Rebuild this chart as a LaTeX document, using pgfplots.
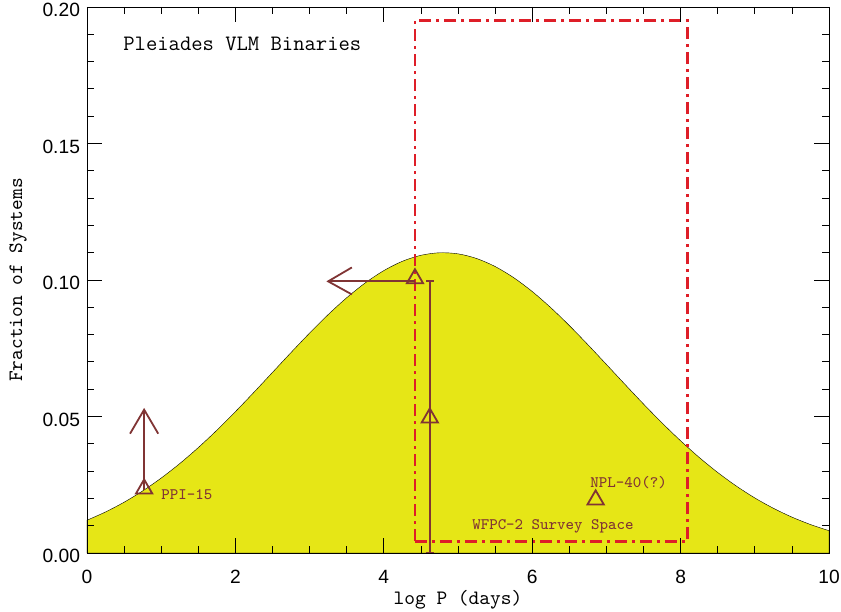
\documentclass[border=0pt]{standalone}
\usepackage{fontspec}
\newfontfamily\tickfont{Liberation Sans}
\usepackage{pgfplots}
\pgfplotsset{compat=1.18}
\usepackage{pgfplotstable}
\definecolor{fillyel}{RGB}{230,230,22}
\definecolor{brn}{RGB}{128,52,52}
\definecolor{redd}{RGB}{222,30,40}
\pgfplotstableread{
x y
0.00 0.01200
0.25 0.01503
0.50 0.01859
0.75 0.02273
1.00 0.02745
1.25 0.03275
1.50 0.03861
1.75 0.04497
2.00 0.05177
2.25 0.05887
2.50 0.06615
2.75 0.07343
3.00 0.08055
3.25 0.08731
3.50 0.09350
3.75 0.09893
4.00 0.10343
4.25 0.10685
4.50 0.10905
4.75 0.10997
5.00 0.10958
5.25 0.10788
5.50 0.10494
5.75 0.10086
6.00 0.09578
6.25 0.08987
6.50 0.08332
6.75 0.07631
7.00 0.06907
7.25 0.06177
7.50 0.05457
7.75 0.04764
8.00 0.04110
8.25 0.03502
8.50 0.02949
8.75 0.02454
9.00 0.02017
9.25 0.01639
9.50 0.01315
9.75 0.01043
10.00 0.00817
}\dist
\begin{document}
\begin{tikzpicture}
\begin{axis}[
  name=main,
  scale only axis,
  width=371pt, height=273pt,
  xmin=0, xmax=10, ymin=0, ymax=0.20,
  xtick={0,2,...,10},
  minor x tick num=3,
  ytick={0,0.05,0.10,0.15,0.20},
  minor y tick num=4,
  /pgf/number format/assume math mode=true,
  yticklabel style={yshift=-1.5pt, /pgf/number format/.cd, fixed, fixed zerofill, precision=2},
  xticklabel style={yshift=-5pt},
  scaled y ticks=false,
  tick align=inside,
  major tick length=7.5pt,
  minor tick length=3.5pt,
  tick style={black, thin},
  axis line style={black, thin},
  tick label style={font=\fontsize{9.6}{11}\tickfont},
  xlabel={log P (days)},
  ylabel={Fraction of Systems},
  label style={font=\fontsize{10.2}{11}\ttfamily},
  xlabel style={at={(axis description cs:0.5,0)}, anchor=center, yshift=-23.5pt},
  ylabel style={at={(axis description cs:0,0.5)}, anchor=center, yshift=34.5pt},
  axis on top,
  clip=false,
]
\addplot[fill=fillyel, draw=black, very thin, smooth] table[x=x,y=y] {\dist} \closedcycle;
% survey box
\addplot[redd, line width=1.3pt, dash pattern=on 6pt off 2.5pt on 1.5pt off 2.5pt] coordinates {(4.42,0.0042) (8.095,0.0042) (8.095,0.195) (4.42,0.195) (4.42,0.0042)};
% PPI-15 lower limit arrow
\addplot[brn, line width=0.9pt] coordinates {(0.77,0.023) (0.77,0.0525)};
\addplot[brn, line width=0.9pt] coordinates {(0.58,0.0437) (0.77,0.0525) (0.96,0.0437)};
% upper limit in P arrow
\addplot[brn, line width=0.9pt] coordinates {(4.42,0.0995) (3.25,0.0995)};
\addplot[brn, line width=0.9pt] coordinates {(3.57,0.1046) (3.25,0.0995) (3.57,0.0947)};
% error bar
\addplot[brn, line width=0.9pt] coordinates {(4.62,0.0) (4.62,0.0995)};
\addplot[brn, line width=0.9pt] coordinates {(4.57,0.0995) (4.67,0.0995)};
\addplot[brn, line width=0.9pt] coordinates {(4.57,0.0) (4.67,0.0)};
% triangles
\addplot[brn, only marks, mark=triangle, mark size=4.7pt, mark options={line width=0.9pt, fill=none}] coordinates {(0.77,0.0235) (4.42,0.1005) (4.62,0.0495) (6.855,0.0195)};
\node[anchor=west, inner sep=0pt, brn, font=\fontsize{8}{9}\ttfamily] at (axis cs:0.997,0.0213) {PPI-15};
\node[inner sep=0pt, brn, font=\fontsize{8}{9}\ttfamily] at (axis cs:7.3,0.0257) {NPL-40(?)};
\node[inner sep=0pt, brn, font=\fontsize{8}{9}\ttfamily] at (axis cs:6.28,0.0099) {WFPC-2 Survey Space};
\node[anchor=west, inner sep=0pt, font=\fontsize{11}{12}\ttfamily] at (axis cs:0.485,0.1864) {Pleiades VLM Binaries};
\end{axis}
\pgfresetboundingbox
\path[use as bounding box] ([shift={(-43.5pt,-29.5pt)}]main.south west) rectangle ([shift={(6pt,3.5pt)}]main.north east);
\end{tikzpicture}
\end{document}
